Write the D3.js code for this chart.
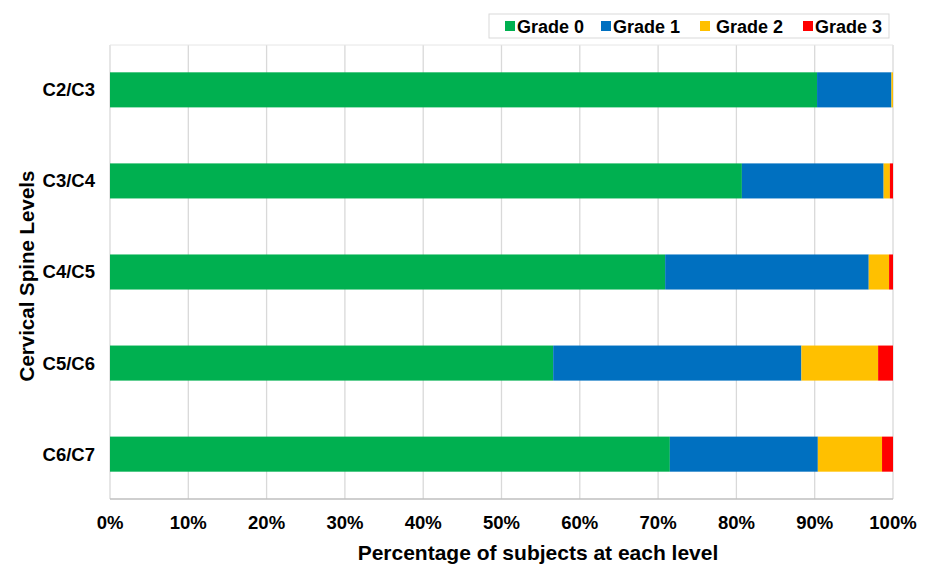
<!DOCTYPE html>
<html>
<head>
<meta charset="utf-8">
<script src="https://cdn.jsdelivr.net/npm/d3@7"></script>
<style>
  body { margin: 0; background: #fff; }
  text { font-family: "Liberation Sans", Arial, sans-serif; font-weight: bold; fill: #000; }
</style>
</head>
<body>
<svg id="chart"></svg>
<script>
var width = 931,
    height = 566;

// data (percent of subjects)
var levels = ["C2/C3", "C3/C4", "C4/C5", "C5/C6", "C6/C7"];
var grades = ["Grade 0", "Grade 1", "Grade 2", "Grade 3"];
var grade0 = [90.3, 80.7, 70.9, 56.6, 71.5];
var grade1 = [9.5, 18.1, 26.0, 31.7, 18.9];
var grade2 = [0.2, 0.8, 2.6, 9.8, 8.2];
var grade3 = [0.0, 0.4, 0.5, 1.9, 1.4];
var xTicks = [0, 10, 20, 30, 40, 50, 60, 70, 80, 90, 100];
var colors = ["#00b050", "#0070c0", "#ffc000", "#ff0000"];

var rows = levels.map(function(l, i) {
  return {level: l, "Grade 0": grade0[i], "Grade 1": grade1[i], "Grade 2": grade2[i], "Grade 3": grade3[i]};
});

var margin = {top: 45, right: 38, bottom: 67, left: 110};

var svg = d3.select("#chart")
    .attr("width", width)
    .attr("height", height);

var x = d3.scaleLinear().domain([0, 100]).range([margin.left, width - margin.right]);
var y = d3.scaleBand().domain(levels).range([margin.top, height - margin.bottom]).paddingInner(0.615).paddingOuter(0.3);

// gridlines
svg.append("g")
  .selectAll("line")
  .data(xTicks)
  .enter().append("line")
    .attr("x1", function(d) { return x(d); })
    .attr("x2", function(d) { return x(d); })
    .attr("y1", margin.top)
    .attr("y2", height - margin.bottom)
    .style("stroke", "#d9d9d9")
    .style("stroke-width", 1.3);

svg.append("line")
  .attr("x1", margin.left).attr("x2", width - margin.right)
  .attr("y1", margin.top).attr("y2", margin.top)
  .style("stroke", "#e6e6e6");

var stack = d3.stack().keys(grades);
var series = stack(rows);

svg.append("g")
  .selectAll("g")
  .data(series)
  .enter().append("g")
    .style("fill", function(d, i) { return colors[i]; })
  .selectAll("rect")
  .data(function(d) { return d; })
  .enter().append("rect")
    .attr("x", function(d) { return x(d[0]); })
    .attr("width", function(d) { return x(d[1]) - x(d[0]); })
    .attr("y", function(d) { return y(d.data.level); })
    .attr("height", y.bandwidth());

// bottom axis line
svg.append("line")
  .attr("x1", margin.left).attr("x2", width - margin.right)
  .attr("y1", height - margin.bottom).attr("y2", height - margin.bottom)
  .style("stroke", "#bfbfbf")
  .style("stroke-width", 1.3);

// x tick labels
svg.append("g")
  .selectAll("text")
  .data(xTicks)
  .enter().append("text")
    .attr("x", function(d) { return x(d); })
    .attr("y", 529)
    .style("text-anchor", "middle")
    .style("font-size", "18.5px")
    .text(function(d) { return d + "%"; });

// category labels
svg.append("g")
  .selectAll("text")
  .data(levels)
  .enter().append("text")
    .attr("x", 95)
    .attr("y", function(d) { return y(d) + y.bandwidth() / 2; })
    .attr("dy", "0.35em")
    .style("text-anchor", "end")
    .style("font-size", "18.5px")
    .text(function(d) { return d; });

// axis titles
svg.append("text")
  .attr("x", 538)
  .attr("y", 560)
  .style("text-anchor", "middle")
  .style("font-size", "21px")
  .text("Percentage of subjects at each level");

svg.append("text")
  .attr("transform", "translate(34," + 276 + ") rotate(-90)")
  .style("text-anchor", "middle")
  .style("font-size", "20.5px")
  .text("Cervical Spine Levels");

// legend
var legendX = [505, 601, 700, 803];
var legend = svg.append("g");
legend.append("rect")
  .attr("x", 489).attr("y", 14)
  .attr("width", 400).attr("height", 24)
  .style("fill", "#fff")
  .style("stroke", "#d9d9d9");

var item = legend.selectAll("g.item")
  .data(grades)
  .enter().append("g")
    .attr("class", "item")
    .attr("transform", function(d, i) { return "translate(" + legendX[i] + ",0)"; });

item.append("rect")
  .attr("x", 0).attr("y", 21)
  .attr("width", 10).attr("height", 10)
  .style("fill", function(d, i) { return colors[i]; });

item.append("text")
  .attr("x", function(d, i) { return i == 2 ? 16 : 12; })
  .attr("y", 32.5)
  .style("font-size", "18px")
  .text(function(d) { return d; });
</script>
</body>
</html>
